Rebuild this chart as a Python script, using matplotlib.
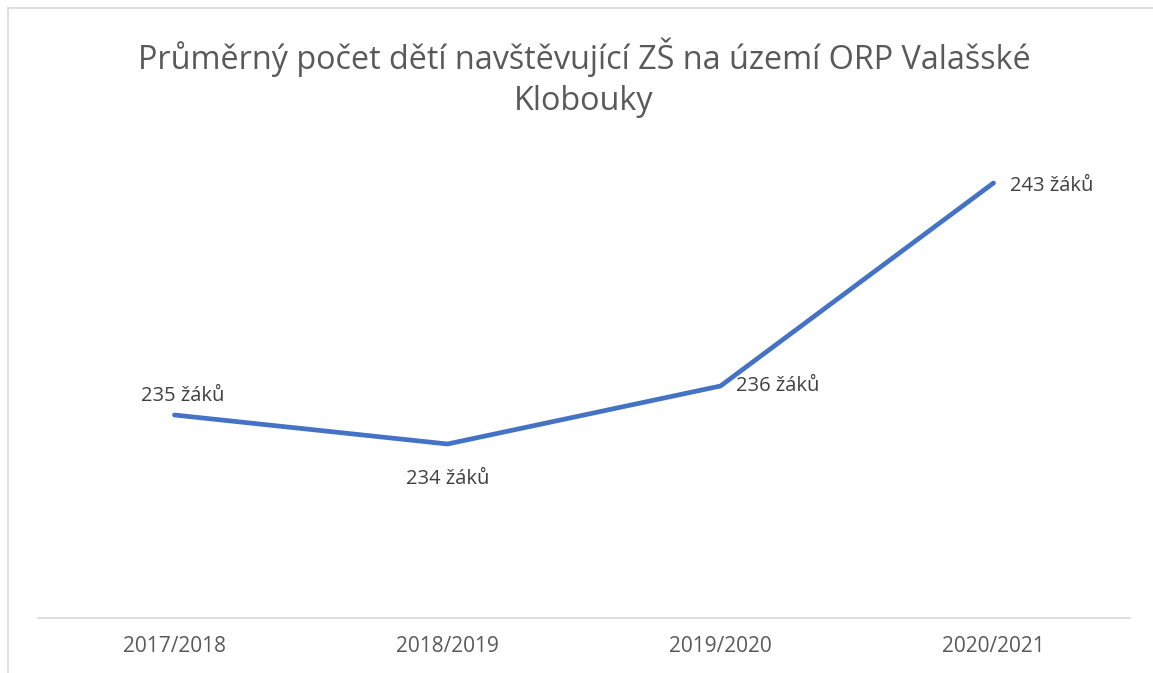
import matplotlib
matplotlib.use("Agg")
import matplotlib.pyplot as plt
from matplotlib.lines import Line2D

categories = ["2017/2018", "2018/2019", "2019/2020", "2020/2021"]
values = [235, 234, 236, 243]
labels = ["235 žáků", "234 žáků", "236 žáků", "243 žáků"]
title = "Průměrný počet dětí navštěvující ZŠ na území ORP Valašské\nKlobouky"

W, H = 1153, 673
fig = plt.figure(figsize=(W / 100, H / 100), dpi=100)
plt.rcParams['font.family'] = ['Open Sans', 'DejaVu Sans']

# chart border (left and top visible)
fig.add_artist(Line2D([7.5 / W, 7.5 / W], [0, 1 - 7.5 / H], transform=fig.transFigure,
                      color="#d9d9d9", lw=1.2))
fig.add_artist(Line2D([7.5 / W, 1], [1 - 7.5 / H, 1 - 7.5 / H], transform=fig.transFigure,
                      color="#d9d9d9", lw=1.2))

left, right = 38 / W, 1130 / W
bottom, top = (H - 618) / H, (H - 154) / H
ax = fig.add_axes([left, bottom, right - left, top - bottom])
x = list(range(len(categories)))
ax.plot(x, values, color="#4472C4", lw=3.4, solid_capstyle="round", solid_joinstyle="round")
ax.set_xlim(-0.5, len(categories) - 0.5)
ax.set_ylim(228, 244)
for s in ["left", "right", "top"]:
    ax.spines[s].set_visible(False)
ax.spines["bottom"].set_color("#d9d9d9")
ax.spines["bottom"].set_linewidth(1.2)
ax.set_yticks([])
ax.set_xticks(x)
ax.set_xticklabels(categories, fontsize=15, color="#595959")
ax.tick_params(axis="x", length=0, pad=13)

# data labels: position relative to point
offsets = [(8, 19, "center", "center"), (0, -35, "center", "center"),
           (16, 0, "left", "center"), (16, -3, "left", "center")]
for xi, v, lab, (dx, dy, ha, va) in zip(x, values, labels, offsets):
    ax.annotate(lab, (xi, v), xytext=(dx, dy), textcoords="offset pixels",
                ha=ha, va=va, fontsize=14.5, color="#404040")

fig.text(584 / W, 1 - 78 / H, title, ha="center", va="center", fontsize=23.3,
         color="#595959", linespacing=1.32)

fig.savefig("out.png", dpi=100)
